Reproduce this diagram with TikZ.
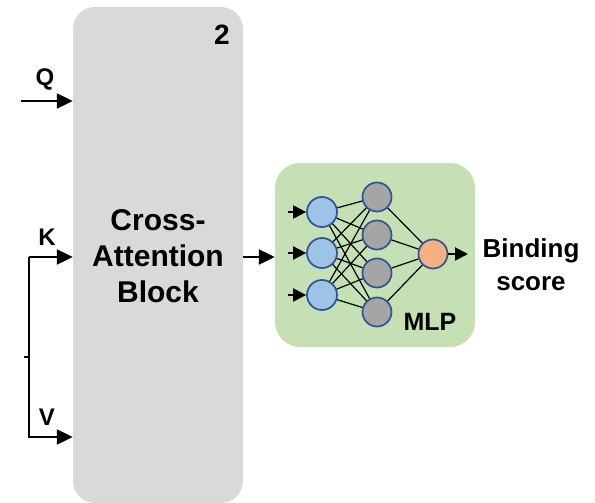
\documentclass[tikz,border=0pt]{standalone}
\usepackage{fontspec}
\setmainfont{Liberation Sans}
\usetikzlibrary{arrows.meta}
\definecolor{blockgray}{HTML}{D9D9D9}
\definecolor{mlpgreen}{HTML}{C5E0B4}
\definecolor{inblue}{HTML}{9DC3E6}
\definecolor{edgeblue}{HTML}{2F5597}
\definecolor{hidgray}{HTML}{A5A5A5}
\definecolor{outorange}{HTML}{F4B183}
\begin{document}
\begin{tikzpicture}[x=1pt,y=-1pt,
  bigarrow/.style={line width=2.2pt,-{Triangle[length=16pt,width=15pt]}},
  smallarrow/.style={line width=2pt,-{Triangle[length=13pt,width=13pt]}},
  neuron/.style={circle,draw=edgeblue,line width=1.7pt,minimum size=30pt,inner sep=0pt},
  conn/.style={line width=1.2pt},
  lbl/.style={font=\bfseries\fontsize{24}{28}\selectfont},
  ]
\useasboundingbox (0,0) rectangle (595,503);
% cross-attention block
\node[fill=blockgray, rounded corners=22pt, minimum width=170pt, minimum height=496pt, inner sep=0pt] (cab) at (158,255) {};
\node[align=center, font=\bfseries\fontsize{30}{36}\selectfont] (cabtxt) at (158,256) {Cross-\\Attention\\Block};
\node[font=\bfseries\fontsize{28}{32}\selectfont] (num) at (222,35) {2};
% inputs
\coordinate (qin) at (21,101);
\coordinate (kv) at (29,257);
\coordinate (vv) at (29,437);
\coordinate (tick) at (24,357);
\coordinate (tickend) at (29,357);
\draw[bigarrow] (qin) -- (qin -| cab.west);
\draw[bigarrow] (kv) -- (kv -| cab.west);
\draw[bigarrow] (kv) -- (vv) -- (vv -| cab.west);
\draw[line width=1.5pt] (tick) -- (tickend);
\node[lbl] (ql) at (45,79) {Q};
\node[lbl] (kl) at (47,237) {K};
\node[lbl] (vl) at (47,417) {V};
% MLP box
\node[fill=mlpgreen, rounded corners=25pt, minimum width=200pt, minimum height=184pt, inner sep=0pt] (mlp) at (375,255) {};
\coordinate (cabout) at (243,257);
\draw[bigarrow] (cabout) -- (cabout -| mlp.west);
% neurons
\node[neuron, fill=inblue] (i1) at (322,212) {};
\node[neuron, fill=inblue] (i2) at (322,253) {};
\node[neuron, fill=inblue] (i3) at (322,295) {};
\node[neuron, fill=hidgray, minimum size=29pt] (h1) at (377,197) {};
\node[neuron, fill=hidgray, minimum size=29pt] (h2) at (377,235) {};
\node[neuron, fill=hidgray, minimum size=29pt] (h3) at (377,273) {};
\node[neuron, fill=hidgray, minimum size=29pt] (h4) at (377,312) {};
\node[neuron, fill=outorange, minimum size=29pt] (o) at (433,254) {};
\foreach \i in {1,2,3}{
  \foreach \h in {1,2,3,4}{
    \draw[conn] (i\i) -- (h\h);
  }
}
\foreach \h in {1,2,3,4}{
  \draw[conn] (h\h) -- (o);
}
\foreach \i in {1,2,3}{
  \coordinate (a\i) at ([xshift=-18pt]i\i.west);
  \draw[smallarrow] (a\i) -- (i\i.west);
}
\coordinate (oout) at (468,254);
\draw[smallarrow] (o.east) -- (oout);
\node[font=\bfseries\fontsize{25}{28}\selectfont] (mlpl) at (430,322) {MLP};
\node[align=center, font=\bfseries\fontsize{26}{33}\selectfont] (bs) at (531,265) {Binding\\score};
\end{tikzpicture}
\end{document}
